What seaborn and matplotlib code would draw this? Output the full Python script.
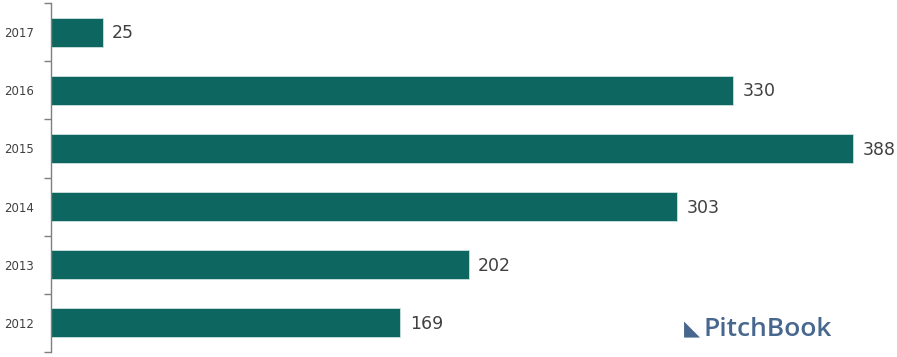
import matplotlib
matplotlib.use("Agg")
import matplotlib.pyplot as plt
import seaborn as sns
import pandas as pd
import numpy as np

# data
years = ['2017', '2016', '2015', '2014', '2013', '2012']
counts = [25, 330, 388, 303, 202, 169]

df = pd.DataFrame({'year': years, 'count': counts})

sns.set_style('white')
plt.rcParams['font.family'] = ['DejaVu Sans']

fig = plt.figure(figsize=(8.97, 3.57), dpi=100)
ax = fig.add_axes([51 / 897, 5 / 357, 827 / 897, 349 / 357])

sns.barplot(data=df, x='count', y='year', order=years, orient='h',
            color='#0d665f', saturation=1, width=0.5, ax=ax,
            edgecolor='#cfe3e0', linewidth=0.6)

ax.set_xlim(0, 400)
ax.set_ylim(len(years) - 0.5, -0.5)
ax.set_xlabel('')
ax.set_ylabel('')
ax.set_xticks([])

# 값 라벨
for i, v in enumerate(counts):
    ax.text(v + 4.5, i + 0.02, str(v), va='center', ha='left', fontsize=12.5, color='#404040')

# 축 꾸미기
for s in ['top', 'right', 'bottom']:
    ax.spines[s].set_visible(False)
ax.spines['left'].set_color('#7f7f7f')
ax.spines['left'].set_linewidth(1)
ax.set_yticks(np.arange(len(years)), labels=years)
ax.set_yticks(np.arange(len(years) + 1) - 0.5, minor=True)
ax.tick_params(axis='y', which='major', length=0, labelsize=8.5, labelcolor='#404040', pad=12)
ax.tick_params(axis='y', which='minor', length=5, width=1, color='#7f7f7f', direction='out', left=True)

# 로고
fig.text(704 / 897, 1 - 329 / 357, 'PitchBook', fontsize=19, color='#48678f',
         va='center', ha='left', family='Open Sans', weight='semibold')
fig.text(684 / 897, 1 - 329 / 357, '\u25e3', fontsize=15, color='#48678f',
         va='center', ha='left')

fig.savefig('out.png', dpi=100)
